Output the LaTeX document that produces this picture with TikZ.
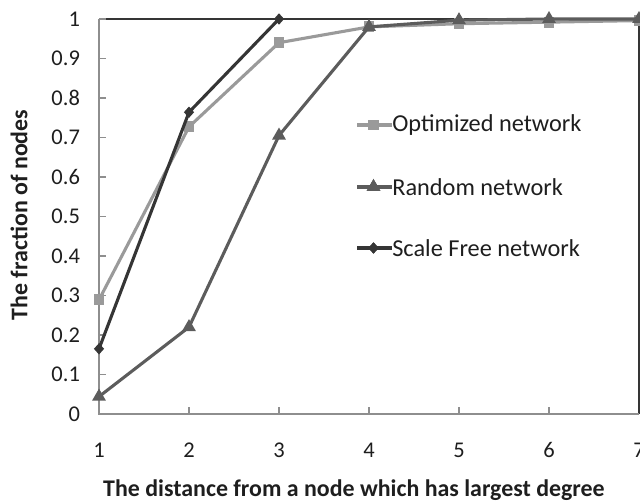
\documentclass[tikz,border=0pt]{standalone}
\usepackage{fontspec}
\setmainfont{Carlito}
\usetikzlibrary{positioning,shapes.geometric}

\definecolor{optgray}{HTML}{9A9A9A}
\definecolor{rndgray}{HTML}{5C5C5C}
\definecolor{sfgray}{HTML}{353535}
\definecolor{axisgray}{HTML}{8E8E8E}
\definecolor{textgray}{HTML}{1E1E1E}

\tikzset{
  ticklab/.style={font=\fontsize{16}{19}\selectfont, text=textgray, inner sep=0pt},
  axtitle/.style={font=\fontsize{17}{20}\selectfont\bfseries, text=textgray, inner sep=0pt},
  legtext/.style={font=\fontsize{17.3}{20}\selectfont, text=textgray, anchor=west, inner sep=0pt},
  optline/.style={optgray, line width=2.2pt, line join=round},
  rndline/.style={rndgray, line width=2.2pt, line join=round},
  sfline/.style={sfgray, line width=2.2pt, line join=round},
  sqmark/.style={rectangle, fill=optgray, minimum size=0.27cm, inner sep=0pt},
  trimark/.style={regular polygon, regular polygon sides=3, fill=rndgray, minimum size=0.4cm, inner sep=0pt},
  dimark/.style={diamond, fill=sfgray, minimum width=0.26cm, minimum height=0.29cm, inner sep=0pt},
}

\begin{document}
\begin{tikzpicture}[x=2.25cm, y=9.875cm]
  \useasboundingbox (-0.1,-0.2203) rectangle (7.0111,1.0481);

  % frame and axes
  \draw[sfgray, line width=1.2pt] (1,1) -- (7,1) -- (7,0);
  \draw[axisgray, line width=1.2pt] (1,1) -- (1,0) -- (7,0);
  \foreach \t in {0,1,...,10}
    \draw[axisgray, line width=1pt] (1,\t/10) -- ++(0.17cm,0);
  \foreach \t in {2,...,6}
    \draw[axisgray, line width=1pt] (\t,0) -- ++(0,0.17cm);

  % tick labels
  \foreach \t/\lab in {0/0,1/0.1,2/0.2,3/0.3,4/0.4,5/0.5,6/0.6,7/0.7,8/0.8,9/0.9,10/1}
    \node[ticklab, anchor=east] (yl\t) at ([xshift=-0.47cm]1,\t/10) {\lab};
  \foreach \t in {1,...,7}
    \node[ticklab] (xl\t) at ([yshift=-0.9cm]\t,0) {\t};

  % axis titles
  \node[axtitle, rotate=90] (ytitle) at (0.111,0.504) {The fraction of nodes};
  \node[axtitle] (xtitle) at (3.833,-0.1924) {The distance from a node which has largest degree};

  % data points
  \foreach \i/\v in {1/0.289,2/0.727,3/0.94,4/0.98,5/0.988,6/0.992,7/0.996}
    \coordinate (o\i) at (\i,\v);
  \foreach \i/\v in {1/0.044,2/0.22,3/0.705,4/0.98,5/0.997,6/1,7/1}
    \coordinate (r\i) at (\i,\v);
  \foreach \i/\v in {1/0.165,2/0.764,3/1}
    \coordinate (s\i) at (\i,\v);

  % optimized network
  \draw[optline] (o1) -- (o2) -- (o3) -- (o4) -- (o5) -- (o6) -- (o7);
  \foreach \i in {1,...,7}
    \node[sqmark] (om\i) at (o\i) {};
  % random network
  \draw[rndline] (r1) -- (r2) -- (r3) -- (r4) -- (r5) -- (r6) -- (r7);
  \foreach \i in {1,...,7}
    \node[trimark] (rm\i) at (r\i) {};
  % scale free network
  \draw[sfline] (s1) -- (s2) -- (s3);
  \foreach \i in {1,2,3}
    \node[dimark] (sm\i) at (s\i) {};

  % legend
  \coordinate (lo) at (3.867,0.7316);
  \coordinate (lr) at (3.867,0.5747);
  \coordinate (ls) at (3.867,0.4203);
  \node[sqmark] (lom) at (4.05,0.7316) {};
  \node[trimark] (lrm) at (4.05,0.5747) {};
  \node[dimark] (lsm) at (4.05,0.4203) {};
  \node[legtext] (optlab) at (4.256,0.7316) {Optimized network};
  \node[legtext] (rndlab) at (4.256,0.5747) {Random network};
  \node[legtext] (sflab) at (4.256,0.4203) {Scale Free network};
  \draw[optline] (lo) -- (optlab.west);
  \draw[rndline] (lr) -- (rndlab.west);
  \draw[sfline] (ls) -- (sflab.west);
  \node[sqmark] at (lom) {};
  \node[trimark] at (lrm) {};
  \node[dimark] at (lsm) {};
\end{tikzpicture}
\end{document}
